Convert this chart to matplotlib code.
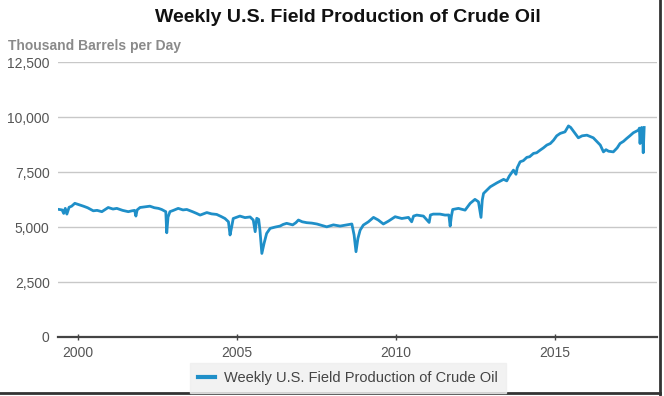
import matplotlib
matplotlib.use("Agg")
import matplotlib.pyplot as plt
from matplotlib.lines import Line2D

plt.rcParams['font.family'] = ['Liberation Sans', 'DejaVu Sans']

# decimal year, thousand barrels per day
years = [
    1999.41, 1999.50, 1999.55, 1999.60, 1999.65, 1999.72, 1999.80, 1999.90,
    2000.05, 2000.17, 2000.30, 2000.48, 2000.60, 2000.75, 2000.95, 2001.10,
    2001.22, 2001.40, 2001.58, 2001.70, 2001.78, 2001.82, 2001.86, 2001.95,
    2002.10, 2002.26, 2002.40, 2002.53, 2002.63, 2002.76, 2002.79, 2002.83,
    2002.89, 2003.00, 2003.15, 2003.30, 2003.42, 2003.60, 2003.73, 2003.84,
    2004.05, 2004.20, 2004.36, 2004.50, 2004.62, 2004.73, 2004.78, 2004.83,
    2004.88, 2005.09, 2005.25, 2005.41, 2005.51, 2005.57, 2005.62, 2005.68,
    2005.72, 2005.78, 2005.85, 2005.93, 2006.04, 2006.20, 2006.35, 2006.45,
    2006.56, 2006.75, 2006.85, 2006.93, 2007.05, 2007.19, 2007.35, 2007.51,
    2007.65, 2007.82, 2008.03, 2008.24, 2008.45, 2008.61, 2008.68, 2008.74,
    2008.80, 2008.87, 2008.97, 2009.13, 2009.29, 2009.44, 2009.60, 2009.76,
    2009.97, 2010.18, 2010.39, 2010.49, 2010.55, 2010.65, 2010.86, 2011.04,
    2011.08, 2011.17, 2011.38, 2011.54, 2011.66, 2011.70, 2011.74, 2011.78,
    2011.96, 2012.17, 2012.33, 2012.48, 2012.59, 2012.67, 2012.71, 2012.75,
    2012.96, 2013.17, 2013.38, 2013.48, 2013.56, 2013.69, 2013.77, 2013.81,
    2013.90, 2014.00, 2014.11, 2014.20, 2014.32, 2014.42, 2014.53, 2014.63,
    2014.74, 2014.85, 2014.95, 2015.05, 2015.16, 2015.31, 2015.42, 2015.49,
    2015.63, 2015.73, 2015.85, 2016.00, 2016.20, 2016.42, 2016.52, 2016.60,
    2016.68, 2016.83, 2016.95, 2017.04, 2017.15, 2017.25, 2017.35, 2017.46,
    2017.62, 2017.65, 2017.67, 2017.70, 2017.72, 2017.75, 2017.77, 2017.80,
]
production = [
    5800, 5780, 5620, 5850, 5590, 5900, 5950, 6080,
    6010, 5950, 5880, 5740, 5760, 5700, 5890, 5820,
    5850, 5760, 5700, 5740, 5760, 5500, 5780, 5890,
    5920, 5950, 5880, 5850, 5800, 5700, 4740, 5450,
    5700, 5760, 5850, 5780, 5800, 5700, 5620, 5545,
    5660, 5600, 5575, 5480, 5390, 5240, 4640, 5000,
    5390, 5500, 5430, 5460, 5320, 4790, 5400, 5350,
    4860, 3800, 4260, 4710, 4940, 5000, 5045, 5120,
    5170, 5100, 5200, 5320, 5240, 5200, 5180, 5140,
    5080, 5010, 5100, 5045, 5100, 5140, 4640, 3880,
    4480, 4860, 5090, 5240, 5440, 5320, 5140, 5270,
    5470, 5390, 5440, 5240, 5500, 5545, 5500, 5210,
    5550, 5590, 5590, 5545, 5550, 5045, 5500, 5800,
    5850, 5770, 6080, 6260, 6150, 5440, 6230, 6530,
    6830, 7010, 7170, 7100, 7320, 7590, 7400, 7700,
    7970, 8020, 8170, 8200, 8350, 8380, 8500, 8600,
    8730, 8800, 8950, 9150, 9260, 9330, 9600, 9530,
    9260, 9060, 9150, 9180, 9060, 8730, 8420, 8520,
    8450, 8420, 8600, 8800, 8900, 9030, 9150, 9290,
    9410, 9500, 8800, 9480, 9530, 9450, 8380, 9530,
]

y_ticks = [0, 2500, 5000, 7500, 10000, 12500]
x_ticks = [2000, 2005, 2010, 2015]
series_name = "Weekly U.S. Field Production of Crude Oil"

fig = plt.figure(figsize=(6.64, 3.96), dpi=100)
ax = fig.add_axes([0.0873, 0.149, 0.902, 0.694])

ax.plot(years, production, color="#1f8fc8", lw=2.0, solid_joinstyle="round")

ax.set_xlim(1999.37, 2018.2)
ax.set_ylim(0, 12500)
ax.set_yticks(y_ticks)
ax.set_yticklabels([f"{v:,}" for v in y_ticks])
ax.set_xticks(x_ticks)
ax.grid(axis="y", color="#c8c8c8", lw=1)
ax.set_axisbelow(True)
for s in ["top", "right", "left"]:
    ax.spines[s].set_visible(False)
ax.spines["bottom"].set_color("#444444")
ax.spines["bottom"].set_linewidth(1.6)
ax.tick_params(axis="y", length=0, pad=6, labelsize=10, labelcolor="#555555")
ax.tick_params(axis="x", length=5, width=1, color="#444444", direction="inout",
               pad=4, labelsize=10, labelcolor="#555555")

fig.text(0.524, 0.955, "Weekly U.S. Field Production of Crude Oil",
         ha="center", va="center", fontsize=14, fontweight="bold", color="#111111")
fig.text(0.012, 0.885, "Thousand Barrels per Day", ha="left", va="center",
         fontsize=10, fontweight="bold", color="#8a8a8a")

handle = Line2D([], [], color="#1f8fc8", lw=3)
leg = fig.legend([handle], [series_name], loc="center", bbox_to_anchor=(0.524, 0.045),
                 frameon=True, fontsize=10.5, handlelength=1.2, handletextpad=0.6,
                 borderpad=0.55, fancybox=False)
leg.get_frame().set_facecolor("#efefef")
leg.get_frame().set_edgecolor("#efefef")
for t in leg.get_texts():
    t.set_color("#444444")

# screenshot border on right and bottom
fig.add_artist(Line2D([0.994, 0.994], [0.0, 1.0], transform=fig.transFigure,
                      color="#333333", lw=2))
fig.add_artist(Line2D([0.0, 0.994], [0.008, 0.008], transform=fig.transFigure,
                      color="#333333", lw=2))

fig.savefig("out.png", dpi=100)
